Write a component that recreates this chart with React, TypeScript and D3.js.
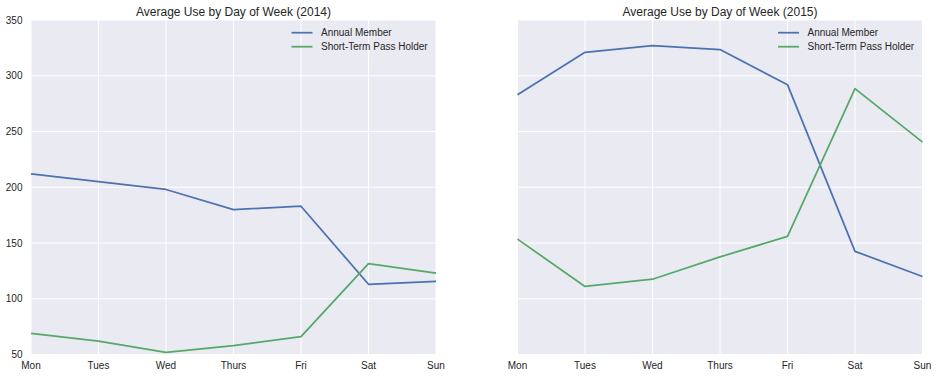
import React from "react";
import * as d3 from "d3";

const days = ["Mon", "Tues", "Wed", "Thurs", "Fri", "Sat", "Sun"];
const yTicks = [50, 100, 150, 200, 250, 300, 350];
const seriesNames = ["Annual Member", "Short-Term Pass Holder"];
const colors = ["#4C72B0", "#55A868"];

const annual2014 = [212, 205, 198, 180, 183, 113, 115.5];
const short2014 = [69, 62, 52, 58, 66, 131.5, 123];
const annual2015 = [283, 321, 327, 323.5, 292, 142.5, 120];
const short2015 = [153.5, 111, 117.5, 137.5, 156, 288.5, 240.5];

const panels = [
  { title: "Average Use by Day of Week (2014)", data: [annual2014, short2014], left: 31, showY: true },
  { title: "Average Use by Day of Week (2015)", data: [annual2015, short2015], left: 517.5, showY: false },
];

const W = 405;
const TOP = 20;
const BOTTOM = 354.5;
const FONT = "'Liberation Sans', Arial, sans-serif";

function Panel({ p }: { p: (typeof panels)[number] }) {
  const x = d3.scalePoint<string>().domain(days).range([p.left, p.left + W]);
  const y = d3.scaleLinear().domain([50, 350]).range([BOTTOM, TOP]);
  const line = d3
    .line<number>()
    .x((_, i) => x(days[i]) as number)
    .y((v) => y(v));
  const lx = p.left + 260.5;
  return (
    <g>
      <rect x={p.left} y={TOP} width={W} height={BOTTOM - TOP} fill="#EAEAF2" />
      {days.map((d) => (
        <line key={d} x1={x(d)} x2={x(d)} y1={TOP} y2={BOTTOM} stroke="#fff" strokeWidth={1} />
      ))}
      {yTicks.map((t) => (
        <line key={t} x1={p.left} x2={p.left + W} y1={y(t)} y2={y(t)} stroke="#fff" strokeWidth={1} />
      ))}
      {p.data.map((s, i) => (
        <path key={i} d={line(s) || ""} fill="none" stroke={colors[i]} strokeWidth={1.75} strokeLinejoin="round" />
      ))}
      {days.map((d) => (
        <text key={d} x={x(d)} y={365.5} textAnchor="middle" dominantBaseline="central" fontSize={10} fill="#262626" fontFamily={FONT}>
          {d}
        </text>
      ))}
      {p.showY &&
        yTicks.map((t) => (
          <text key={t} x={22.5} y={y(t)} textAnchor="end" dominantBaseline="central" fontSize={10} fill="#262626" fontFamily={FONT}>
            {t}
          </text>
        ))}
      <text x={p.left + W / 2} y={11.5} textAnchor="middle" dominantBaseline="central" fontSize={12} fill="#262626" fontFamily={FONT}>
        {p.title}
      </text>
      {seriesNames.map((n, i) => (
        <g key={n}>
          <line x1={lx} x2={lx + 21} y1={32.7 + i * 14} y2={32.7 + i * 14} stroke={colors[i]} strokeWidth={1.75} />
          <text x={lx + 29.5} y={32.7 + i * 14} dominantBaseline="central" fontSize={10} fill="#262626" fontFamily={FONT}>
            {n}
          </text>
        </g>
      ))}
    </g>
  );
}

export default function App() {
  return (
    <svg width={938} height={378} style={{ position: "absolute", left: 0, top: 0, background: "#fff" }}>
      {panels.map((p) => (
        <Panel key={p.title} p={p} />
      ))}
    </svg>
  );
}
